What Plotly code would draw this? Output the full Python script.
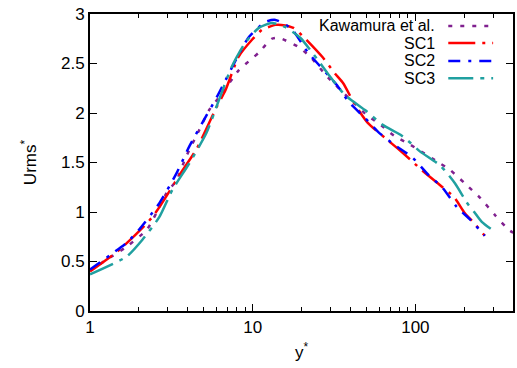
import plotly.graph_objects as go

# Kawamura et al. (reference DNS)
kaw_x = [1, 1.27, 1.68, 2.23, 2.56, 2.95, 3.4, 3.9, 4.7, 5.4, 6.5, 8.2, 10.9, 13.1, 14.4,
         19.0, 22.5, 29, 42, 51, 59, 74, 93, 142, 162, 201, 251, 308, 375, 400]
kaw_y = [0.41, 0.52, 0.65, 0.82, 0.99, 1.19, 1.32, 1.56, 1.83, 2.03, 2.20, 2.43, 2.61, 2.75, 2.76,
         2.67, 2.57, 2.36, 2.10, 1.97, 1.90, 1.77, 1.68, 1.49, 1.43, 1.29, 1.14, 0.97, 0.82, 0.79]

# SC1
sc1_x = [1, 1.52, 2.42, 3.7, 4.5, 6.0, 6.8, 8.2, 9.9, 11.4, 13.8, 15, 17.8, 20.5, 27, 32, 36,
         42, 51, 66, 78, 93, 110, 142, 173, 201, 229, 267]
sc1_y = [0.40, 0.62, 0.95, 1.42, 1.63, 2.06, 2.23, 2.57, 2.74, 2.84, 2.89, 2.89, 2.86, 2.77, 2.56, 2.40, 2.30,
         2.10, 1.90, 1.74, 1.64, 1.53, 1.42, 1.27, 1.15, 0.99, 0.89, 0.76]

# SC2
sc2_x = [1, 1.68, 2.0, 2.67, 3.4, 4.07, 4.9, 6.2, 7.9, 9.5, 12.0, 13.8, 17.3, 21.9, 33,
         39, 49, 59, 74, 96, 121, 146, 180, 218, 267]
sc2_y = [0.42, 0.69, 0.82, 1.09, 1.39, 1.66, 1.90, 2.20, 2.54, 2.77, 2.92, 2.94, 2.85, 2.61, 2.28,
         2.11, 1.95, 1.81, 1.68, 1.55, 1.37, 1.25, 1.05, 0.92, 0.76]

# SC3
sc3_x = [1, 1.68, 2.1, 2.67, 3.2, 4.07, 5.2, 6.2, 7.4, 9.0, 10.9, 13.1, 15.8, 19.6, 25, 28.9,
         37, 49, 63, 81, 93, 107, 142, 175, 208, 230, 256, 308]
sc3_y = [0.37, 0.55, 0.72, 0.95, 1.22, 1.49, 1.80, 2.13, 2.46, 2.71, 2.86, 2.91, 2.87, 2.76, 2.54, 2.40,
         2.18, 2.03, 1.88, 1.78, 1.70, 1.61, 1.47, 1.29, 1.09, 1.00, 0.90, 0.80]

names = ["Kawamura et al.", "SC1", "SC2", "SC3"]
colors = ["#80208f", "#ff0000", "#0000ff", "#20a0a0"]
dashes = ["4px,8px", "27px,7px,3px,7px", "12px,8px,3px,8px", "25px,7px,4px,7px"]
series = [(kaw_x, kaw_y), (sc1_x, sc1_y), (sc2_x, sc2_y), (sc3_x, sc3_y)]

fig = go.Figure()
for (xs, ys), n, c, d in zip(series, names, colors, dashes):
    fig.add_trace(go.Scatter(x=xs, y=ys, name=n, mode="lines",
                             line=dict(color=c, width=2.5, dash=d, shape="spline", smoothing=0.6),
                             showlegend=False))

FONT = "Liberation Sans, Arial, sans-serif"

# custom gnuplot-style legend (text right, sample right of it)
row_y = [0.960, 0.902, 0.842, 0.784]
for n, c, d, ry in zip(names, colors, dashes, row_y):
    fig.add_annotation(x=0.821, y=ry, xref="paper", yref="paper", text=n, showarrow=False,
                       xanchor="right", yanchor="middle",
                       font=dict(size=16, color="black", family=FONT))
    fig.add_shape(type="line", xref="paper", yref="paper", x0=0.847, x1=0.953, y0=ry, y1=ry,
                  line=dict(color=c, width=2.5, dash=d))

minor_vals = [v * m for m in (1, 10, 100) for v in range(2, 10) if v * m <= 400]

fig.update_layout(
    width=517, height=368,
    margin=dict(l=90, r=2, t=14, b=57),
    plot_bgcolor="white", paper_bgcolor="white",
    font=dict(family=FONT, size=17, color="black"),
    xaxis=dict(type="log", range=[0, 2.6], tickvals=[1, 10, 100], ticktext=["1", "10", "100"],
               ticks="inside", ticklen=7, tickwidth=1, tickcolor="black",
               showline=True, linecolor="black", linewidth=2, mirror="allticks",
               showgrid=False, zeroline=False,
               minor=dict(tickvals=minor_vals, ticks="inside", ticklen=4, tickwidth=1, tickcolor="black",
                          showgrid=False),
               title=dict(text="y<sup>*</sup>", standoff=10, font=dict(size=17))),
    yaxis=dict(range=[0, 3], tickvals=[0, 0.5, 1, 1.5, 2, 2.5, 3],
               ticktext=["0", "0.5", "1", "1.5", "2", "2.5", "3"],
               ticks="inside", ticklen=7, tickwidth=1, tickcolor="black",
               showline=True, linecolor="black", linewidth=2, mirror="allticks",
               showgrid=False, zeroline=False,
               title=dict(text="Urms<sup>*</sup>", standoff=20, font=dict(size=17))),
)

fig.write_html("out.html")
